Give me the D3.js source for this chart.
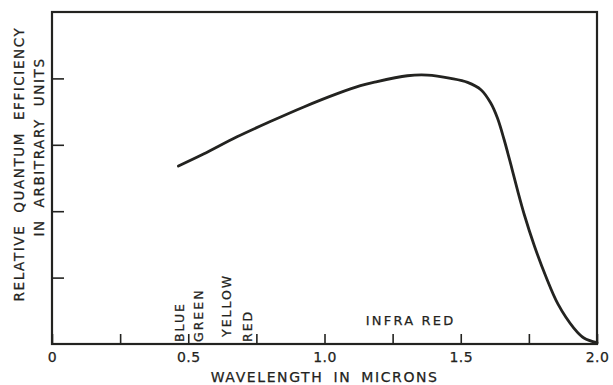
<!DOCTYPE html>
<html>
<head>
<meta charset="utf-8">
<script src="https://cdn.jsdelivr.net/npm/d3@7"></script>
<style>
  body { margin: 0; background: #fff; }
  svg text { font-family: "DejaVu Sans", "Liberation Sans", sans-serif; fill: #232320; stroke: #232320; stroke-width: 0.25px; }
</style>
</head>
<body>
<figure id="chart" style="margin:0"></figure>
<script>
// values (wavelength in microns, efficiency in arbitrary units)
const wavelength = [0.464, 0.556, 0.679, 0.801, 0.924, 1.047, 1.132, 1.18, 1.304, 1.378, 1.463, 1.525, 1.574, 1.61, 1.635, 1.659, 1.684, 1.708, 1.733, 1.77, 1.812, 1.857, 1.915, 1.952, 2.0];
const efficiency = [2.68, 2.86, 3.12, 3.35, 3.57, 3.77, 3.89, 3.94, 4.04, 4.05, 4.00, 3.94, 3.83, 3.63, 3.40, 3.08, 2.70, 2.32, 1.95, 1.48, 1.02, 0.60, 0.24, 0.09, 0.02];

const xTicks = [0, 0.25, 0.5, 0.75, 1.0, 1.25, 1.5, 1.75, 2.0];
const xTickLabels = ["0", "", "0.5", "", "1.0", "", "1.5", "", "2.0"];
const yTicks = [1, 2, 3, 4];

const colourNames = ["BLUE", "GREEN", "YELLOW", "RED"];
const colourAt = [0.467, 0.537, 0.64, 0.717];

const width = 613, height = 385;
const plotLeft = 52, plotRight = 597, plotTop = 12, plotBottom = 344;

const svg = d3.select("figure#chart")
  .append("svg")
  .attr("width", width)
  .attr("height", height);

const x = d3.scaleLinear().domain([0, 2]).range([plotLeft, plotRight]);
const y = d3.scaleLinear().domain([0, 5]).range([plotBottom, plotTop]);

const ink = "#232320";

// frame
svg.append("rect")
  .attr("x", plotLeft).attr("y", plotTop)
  .attr("width", plotRight - plotLeft).attr("height", plotBottom - plotTop)
  .attr("fill", "none").attr("stroke", ink).attr("stroke-width", 2.2);

// x axis, ticks pointing inward
const xAxis = svg.append("g")
  .attr("transform", "translate(0," + plotBottom + ")")
  .call(d3.axisBottom(x)
    .tickValues(xTicks)
    .tickSizeInner(-10)
    .tickSizeOuter(0)
    .tickPadding(8)
    .tickFormat((d, i) => xTickLabels[i]));
xAxis.select(".domain").remove();
xAxis.selectAll("line").attr("stroke", ink).attr("stroke-width", 1.6);
xAxis.selectAll("text")
  .attr("y", 18)
  .attr("dy", 0)
  .attr("fill", ink)
  .style("font-size", "14px")
  .style("letter-spacing", "0.5px");

// y axis, ticks only
const yAxis = svg.append("g")
  .attr("transform", "translate(" + plotLeft + ",0)")
  .call(d3.axisLeft(y).tickValues(yTicks).tickSizeInner(-12).tickSizeOuter(0).tickFormat(""));
yAxis.select(".domain").remove();
yAxis.selectAll("line").attr("stroke", ink).attr("stroke-width", 1.6);

// curve
const line = d3.line()
  .x((d, i) => x(wavelength[i]))
  .y(d => y(d))
  .curve(d3.curveCatmullRom.alpha(0.5));

svg.append("path")
  .datum(efficiency)
  .attr("d", line)
  .attr("fill", "none")
  .attr("stroke", ink)
  .attr("stroke-width", 2.8)
  .attr("stroke-linecap", "round");

// colour band labels (vertical)
const colourBottom = [342, 342, 337, 342];
svg.selectAll(".band")
  .data(colourNames)
  .enter()
  .append("text")
  .attr("class", "band")
  .attr("transform", (d, i) => "translate(" + x(colourAt[i]) + "," + colourBottom[i] + ") rotate(-90)")
  .attr("dy", "0.36em")
  .style("font-size", "12.5px")
  .style("letter-spacing", "2px")
  .text(d => d);

svg.append("text")
  .attr("x", x(1.316))
  .attr("y", 325)
  .attr("text-anchor", "middle")
  .style("font-size", "13px")
  .style("letter-spacing", "2.2px")
  .style("word-spacing", "0px")
  .text("INFRA RED");

// axis titles
svg.append("text")
  .attr("x", (x(0.571) + x(1.43)) / 2)
  .attr("y", 382)
  .attr("text-anchor", "middle")
  .style("font-size", "14px")
  .style("letter-spacing", "1.6px")
  .style("word-spacing", "4px")
  .text("WAVELENGTH IN MICRONS");

svg.append("text")
  .attr("transform", "translate(24,164) rotate(-90)")
  .attr("text-anchor", "middle")
  .style("font-size", "13.5px")
  .style("letter-spacing", "1.6px")
  .style("word-spacing", "6px")
  .text("RELATIVE QUANTUM EFFICIENCY");

svg.append("text")
  .attr("transform", "translate(44,147) rotate(-90)")
  .attr("text-anchor", "middle")
  .style("font-size", "13.5px")
  .style("letter-spacing", "1.6px")
  .style("word-spacing", "6px")
  .text("IN ARBITRARY UNITS");
</script>
</body>
</html>
